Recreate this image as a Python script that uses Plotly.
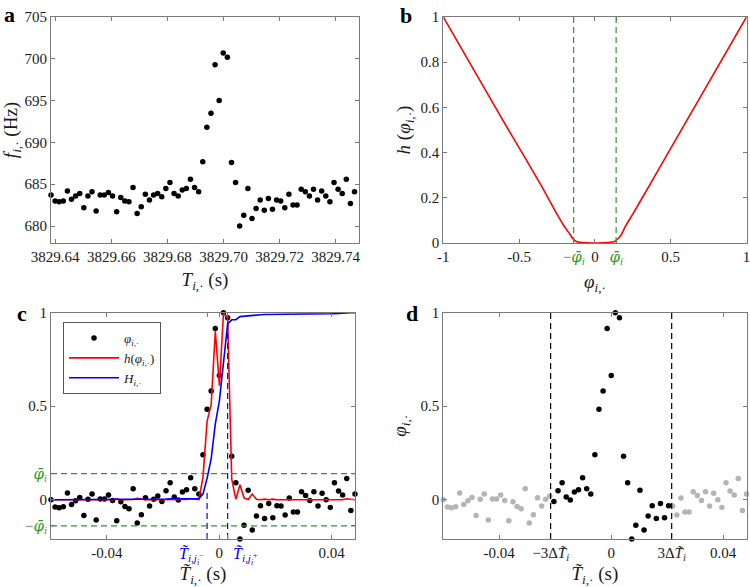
import plotly.graph_objects as go

# ---------------- data ----------------
# panel a: time stamps (s) and instantaneous frequency (Hz)
T_a = [3829.63850, 3829.63996, 3829.64142, 3829.64289, 3829.64435, 3829.64581, 3829.64727, 3829.64874,
       3829.65020, 3829.65166, 3829.65312, 3829.65458, 3829.65605, 3829.65751, 3829.65897, 3829.66043,
       3829.66190, 3829.66336, 3829.66482, 3829.66628, 3829.66774, 3829.66921, 3829.67067, 3829.67213,
       3829.67359, 3829.67506, 3829.67652, 3829.67798, 3829.67944, 3829.68090, 3829.68237, 3829.68383,
       3829.68529, 3829.68675, 3829.68821, 3829.68968, 3829.69114, 3829.69260, 3829.69406, 3829.69553,
       3829.69699, 3829.69845, 3829.69991, 3829.70137, 3829.70284, 3829.70430, 3829.70576, 3829.70722,
       3829.70869, 3829.71015, 3829.71161, 3829.71307, 3829.71453, 3829.71600, 3829.71746, 3829.71892,
       3829.72038, 3829.72185, 3829.72331, 3829.72477, 3829.72623, 3829.72769, 3829.72916, 3829.73062,
       3829.73208, 3829.73354, 3829.73500, 3829.73647, 3829.73793, 3829.73939, 3829.74085, 3829.74232,
       3829.74378, 3829.74524, 3829.74670]
f_a = [683.7, 683.0, 682.9, 683.0, 684.2, 683.2, 683.6, 683.9, 682.2, 683.6,
       684.1, 681.8, 683.7, 683.7, 684.0, 683.6, 681.7, 683.4, 683.0, 682.9,
       684.6, 681.5, 682.3, 683.8, 683.1, 683.7, 683.9, 683.5, 684.5, 685.2,
       683.9, 683.6, 684.3, 684.5, 685.6, 684.6, 684.1, 687.7, 691.8, 693.5,
       699.3, 695.0, 700.7, 700.2, 687.6, 685.2, 680.0, 681.3, 684.5, 680.9,
       682.1, 683.1, 681.9, 683.3, 682.0, 683.1, 683.0, 682.2, 683.8, 682.5,
       682.5, 684.4, 684.1, 683.6, 684.4, 683.1, 684.2, 683.6, 682.9, 685.2,
       684.4, 683.9, 685.6, 682.7, 684.1]
a_xticks = [3829.64, 3829.66, 3829.68, 3829.70, 3829.72, 3829.74]
a_xticklabels = ["3829.64", "3829.66", "3829.68", "3829.70", "3829.72", "3829.74"]
a_yticks = [680, 685, 690, 695, 700, 705]

# panel b: shaping function h(phi)
phi_b = [-1.0, -0.6, -0.36, -0.25, -0.2, -0.167, -0.145, -0.123, -0.1, -0.05, 0.0,
         0.05, 0.1, 0.13, 0.152, 0.173, 0.2, 0.25, 0.36, 0.6, 1.0]
h_b = [1.0, 0.535, 0.262, 0.128, 0.072, 0.041, 0.019, 0.007, 0.003, 0.001, 0.0,
       0.001, 0.003, 0.007, 0.019, 0.035, 0.072, 0.128, 0.255, 0.535, 1.0]
PHIBAR = 0.14

# panels c, d: normalised time, phi, h(phi), H
t_c = [-0.05990, -0.05844, -0.05698, -0.05551, -0.05405, -0.05259, -0.05113, -0.04967, -0.04820, -0.04674,
       -0.04528, -0.04382, -0.04236, -0.04089, -0.03943, -0.03797, -0.03651, -0.03505, -0.03358, -0.03212,
       -0.03066, -0.02920, -0.02774, -0.02627, -0.02481, -0.02335, -0.02189, -0.02043, -0.01896, -0.01750,
       -0.01604, -0.01458, -0.01312, -0.01165, -0.01019, -0.00873, -0.00727, -0.00581, -0.00434, -0.00288,
       -0.00142, 0.00004, 0.00150, 0.00297, 0.00443, 0.00589, 0.00735, 0.00881, 0.01028, 0.01174,
       0.01320, 0.01466, 0.01612, 0.01759, 0.01905, 0.02051, 0.02197, 0.02343, 0.02490, 0.02636,
       0.02782, 0.02928, 0.03074, 0.03221, 0.03367, 0.03513, 0.03659, 0.03805, 0.03952, 0.04098,
       0.04244, 0.04390, 0.04536, 0.04683, 0.04829]
phi_c = [0.000, -0.039, -0.043, -0.037, 0.036, -0.025, -0.005, 0.012, -0.085, 0.002,
         0.030, -0.109, 0.004, 0.004, 0.025, -0.004, -0.112, -0.011, -0.036, -0.048,
         0.059, -0.125, -0.080, 0.011, -0.034, 0.002, 0.020, -0.009, 0.048, 0.091,
         0.014, -0.002, 0.041, 0.053, 0.117, 0.059, 0.030, 0.240, 0.484, 0.582,
         0.916, 0.664, 1.000, 0.973, 0.233, 0.091, -0.210, -0.137, 0.050, -0.162,
         -0.087, -0.032, -0.101, -0.020, -0.096, -0.032, -0.034, -0.082, 0.009, -0.066,
         -0.066, 0.043, 0.023, -0.004, 0.043, -0.034, 0.034, 0.000, -0.041, 0.091,
         0.046, 0.025, 0.114, -0.057, 0.030]
h_c = [0.000, 0.000, 0.000, 0.000, 0.000, 0.000, 0.000, 0.000, 0.002, 0.000,
       0.000, 0.004, 0.000, 0.000, 0.000, 0.000, 0.005, 0.000, 0.000, 0.001,
       0.001, 0.007, 0.002, 0.000, 0.000, 0.000, 0.000, 0.000, 0.001, 0.003,
       0.000, 0.000, 0.000, 0.001, 0.005, 0.001, 0.000, 0.120, 0.420, 0.510,
       0.900, 0.610, 1.000, 0.970, 0.110, 0.003, 0.080, 0.010, 0.001, 0.030,
       0.002, 0.000, 0.003, 0.000, 0.003, 0.000, 0.000, 0.002, 0.000, 0.001,
       0.001, 0.000, 0.000, 0.000, 0.000, 0.000, 0.000, 0.000, 0.000, 0.003,
       0.000, 0.000, 0.005, 0.001, 0.000]
H_c = [0.000, 0.000, 0.000, 0.000, 0.000, 0.000, 0.000, 0.000, 0.000, 0.000,
       0.000, 0.001, 0.001, 0.001, 0.001, 0.001, 0.002, 0.002, 0.002, 0.002,
       0.002, 0.003, 0.004, 0.004, 0.004, 0.004, 0.004, 0.004, 0.004, 0.005,
       0.005, 0.005, 0.005, 0.005, 0.006, 0.006, 0.006, 0.030, 0.115, 0.220,
       0.405, 0.530, 0.740, 0.940, 0.962, 0.963, 0.979, 0.981, 0.982, 0.988,
       0.989, 0.989, 0.990, 0.990, 0.991, 0.991, 0.991, 0.992, 0.992, 0.992,
       0.993, 0.993, 0.993, 0.993, 0.994, 0.994, 0.994, 0.994, 0.994, 0.995,
       0.995, 0.995, 0.999, 1.000, 1.000]
T_jminus = -0.00434
T_jplus = 0.00297
T_marker_top = [0.04, 0.96]
DT3 = 0.0216   # 3 * Delta T_i

# ---------------- style ----------------
FONT = "Liberation Serif"
AX = "#7a7a7a"
TXT = "#1a1a1a"
GREEN = "#2a9a2a"
RED = "#ff0000"
BLUE = "#0000ff"
GRAY = "#b4b4b4"
W, Hh = 750, 587

def px_x(a, b):
    return [a / W, b / W]

def px_y(top, bottom):
    return [1 - bottom / Hh, 1 - top / Hh]

def axis(**kw):
    d = dict(showline=True, linecolor=AX, linewidth=1, mirror="ticks", ticks="inside",
             ticklen=4, tickcolor=AX, tickwidth=1, showgrid=False, zeroline=False,
             automargin=False, ticklabeloverflow="allow",
             tickfont=dict(family=FONT, size=15, color=TXT),
             title_font=dict(family=FONT, size=19, color=TXT))
    d.update(kw)
    return d

def green(s):
    return '<span style="color:%s">%s</span>' % (GREEN, s)

PHI = "<i>φ</i>"
PHIBAR_TXT = '<span style="font-family:DejaVu Serif;font-style:italic">φ̄</span><sub><i>i</i></sub>'
SUB = "<sub><i>i</i>,·</sub>"

fig = go.Figure()

# panel a
fig.add_trace(go.Scatter(x=T_a, y=f_a, mode="markers", xaxis="x", yaxis="y",
                         marker=dict(color="black", size=5.5), cliponaxis=False, showlegend=False))

# panel b
fig.add_trace(go.Scatter(x=phi_b, y=h_b, mode="lines", xaxis="x2", yaxis="y2",
                         line=dict(color=RED, width=1.6, shape="spline", smoothing=0.5), showlegend=False))

# panel c
fig.add_trace(go.Scatter(x=t_c, y=phi_c, mode="markers", xaxis="x3", yaxis="y3",
                         marker=dict(color="black", size=5.5), cliponaxis=False,
                         name=PHI + SUB))
fig.add_trace(go.Scatter(x=t_c, y=h_c, mode="lines", xaxis="x3", yaxis="y3",
                         line=dict(color=RED, width=1.6), name="<i>h</i>(" + PHI + SUB + ")"))
fig.add_trace(go.Scatter(x=t_c, y=H_c, mode="lines", xaxis="x3", yaxis="y3",
                         line=dict(color=BLUE, width=1.6), name="<i>H</i>" + SUB))
for xv, top in zip([T_jminus, T_jplus], T_marker_top):
    fig.add_trace(go.Scatter(x=[xv, xv], y=[-0.21, top], mode="lines", xaxis="x3", yaxis="y3",
                             line=dict(color=BLUE, width=1.2, dash="6px,4px"), showlegend=False))

# panel d
gx = [t for t in t_c if abs(t) > DT3]
gy = [p for t, p in zip(t_c, phi_c) if abs(t) > DT3]
bx = [t for t in t_c if abs(t) <= DT3]
by = [p for t, p in zip(t_c, phi_c) if abs(t) <= DT3]
fig.add_trace(go.Scatter(x=gx, y=gy, mode="markers", xaxis="x4", yaxis="y4",
                         marker=dict(color=GRAY, size=5.5), cliponaxis=False, showlegend=False))
fig.add_trace(go.Scatter(x=bx, y=by, mode="markers", xaxis="x4", yaxis="y4",
                         marker=dict(color="black", size=5.5), cliponaxis=False, showlegend=False))

shapes = []
for s in (-1, 1):
    shapes.append(dict(type="line", xref="x2", yref="y2 domain", x0=s * PHIBAR, x1=s * PHIBAR,
                       y0=0, y1=1, line=dict(color=GREEN, width=1.2, dash="6px,4px")))
    shapes.append(dict(type="line", xref="x3 domain", yref="y3", x0=0, x1=1,
                       y0=s * PHIBAR, y1=s * PHIBAR, line=dict(color=GREEN, width=1.2, dash="6px,4px")))
    shapes.append(dict(type="line", xref="x4", yref="y4 domain", x0=s * DT3, x1=s * DT3,
                       y0=0, y1=1, line=dict(color="black", width=1.2, dash="6px,4px")))

XD_L = px_x(51, 359)
XD_R = px_x(443.3, 746.5)
XD_C = px_x(51, 355)
YD_T = px_y(17, 243)
YD_B = px_y(312.7, 539)

rng_c = [-0.0599, 0.0483]

fig.update_layout(
    width=W, height=Hh, margin=dict(l=0, r=0, t=0, b=0, autoexpand=False),
    paper_bgcolor="white", plot_bgcolor="white",
    font=dict(family=FONT, size=15, color=TXT),
    shapes=shapes,
    xaxis=axis(domain=XD_L, anchor="y", range=[3829.6385, 3829.7483], tickvals=a_xticks,
               ticktext=a_xticklabels, title=dict(text="<i>T</i>" + SUB + " (s)", standoff=8)),
    yaxis=axis(domain=YD_T, anchor="x", range=[677.97, 705], tickvals=a_yticks,
               title=dict(text="<i>f</i>" + SUB + " (Hz)", standoff=4)),
    xaxis2=axis(domain=XD_R, anchor="y2", range=[-1, 1.0001],
                tickvals=[-1, -0.5, -PHIBAR, 0, PHIBAR, 0.5, 1],
                ticktext=["-1", "-0.5", green("−" + PHIBAR_TXT), "0", green(PHIBAR_TXT), "0.5", "1"],
                title=dict(text=PHI + SUB, standoff=8)),
    yaxis2=axis(domain=YD_T, anchor="x2", range=[0, 1], tickvals=[0, 0.2, 0.4, 0.6, 0.8, 1],
                ticktext=["0", "0.2", "0.4", "0.6", "0.8", "1"],
                title=dict(text="<i>h</i> (" + PHI + SUB + ")", standoff=4)),
    xaxis3=axis(domain=XD_C, anchor="y3", range=rng_c,
                tickvals=[-0.04, T_jminus, 0, T_jplus, 0.04],
                ticktext=["-0.04", " ", "0", " ", "0.04"],
                title=dict(text="<i>T̃</i>" + SUB + " (s)", standoff=8)),
    yaxis3=axis(domain=YD_B, anchor="x3", range=[-0.21, 1],
                tickvals=[-PHIBAR, 0, PHIBAR, 0.5, 1],
                ticktext=[green("−" + PHIBAR_TXT), "0", green(PHIBAR_TXT), "0.5", "1"]),
    xaxis4=axis(domain=XD_R, anchor="y4", range=rng_c,
                tickvals=[-0.04, -DT3, 0, DT3, 0.04],
                ticktext=["-0.04", "−3Δ<i>T̃</i><sub><i>i</i></sub>", "0",
                          "3Δ<i>T̃</i><sub><i>i</i></sub>", "0.04"],
                title=dict(text="<i>T̃</i>" + SUB + " (s)", standoff=4)),
    yaxis4=axis(domain=YD_B, anchor="x4", range=[-0.21, 1], tickvals=[0, 0.5, 1],
                ticktext=["0", "0.5", "1"],
                title=dict(text=PHI + SUB, standoff=8)),
    legend=dict(x=63 / W, y=1 - 322 / Hh, xanchor="left", yanchor="top",
                bgcolor="white", bordercolor="#555555", borderwidth=1,
                font=dict(family=FONT, size=13, color=TXT), itemwidth=50,
                tracegroupgap=0),
)

ann = []
for lab, x, y in [("a", 2, 0), ("b", 398, 1), ("c", 15, 299), ("d", 404, 299)]:
    ann.append(dict(text="<b>%s</b>" % lab, x=x / W, y=1 - y / Hh, xref="paper", yref="paper",
                    xanchor="left", yanchor="top", showarrow=False,
                    font=dict(family=FONT, size=22, color="black")))
ann.append(dict(text="<i>T̃</i><sub><i>i</i>,<i>j</i><sub><i>i</i></sub><sup>−</sup></sub>",
                x=T_jminus, xref="x3", y=1 - 543 / Hh, yref="paper", xanchor="right", yanchor="top",
                xshift=-1, showarrow=False, font=dict(family=FONT, size=16, color=BLUE)))
ann.append(dict(text="<i>T̃</i><sub><i>i</i>,<i>j</i><sub><i>i</i></sub><sup>+</sup></sub>",
                x=T_jplus, xref="x3", y=1 - 543 / Hh, yref="paper", xanchor="left", yanchor="top",
                xshift=3, showarrow=False, font=dict(family=FONT, size=16, color=BLUE)))
fig.update_layout(annotations=ann)

fig.write_html("out.html")
